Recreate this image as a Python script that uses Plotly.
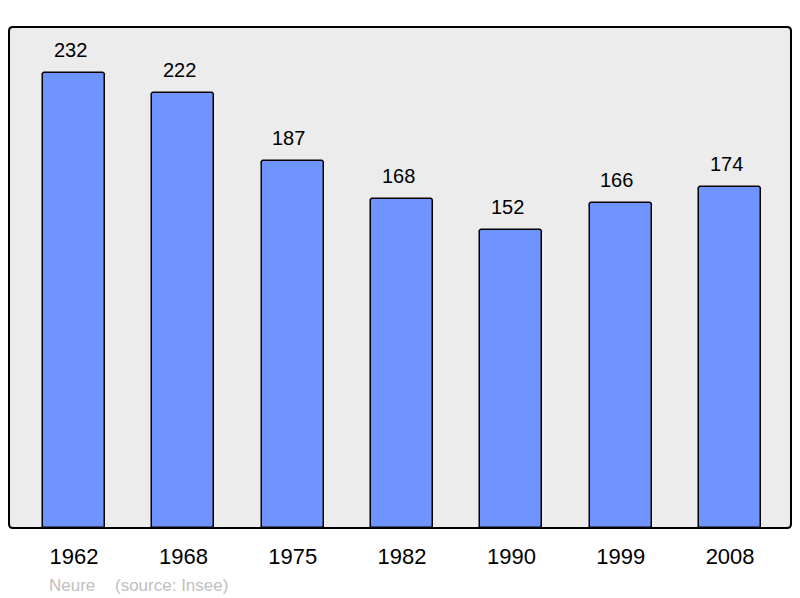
import plotly.graph_objects as go

years = ["1962", "1968", "1975", "1982", "1990", "1999", "2008"]
population = [232, 222, 187, 168, 152, 166, 174]
source_name = "Neure"
source_text = "(source: Insee)"

W, H = 800, 598
ml, mr, mt, mb = 9, 9, 27, 70
pw, ph = W - ml - mr, H - mt - mb

fig = go.Figure()
fig.add_trace(go.Bar(
    x=list(range(len(years))), y=population,
    width=0.567,
    marker=dict(color="#7094ff", line=dict(color="#000000", width=1.5), cornerradius=3),
    hoverinfo="skip",
))

for i, v in enumerate(population):
    fig.add_annotation(x=i, y=v, text=str(v), showarrow=False,
                       yanchor="bottom", yshift=10, xshift=-4,
                       font=dict(family="Liberation Sans, Arial", size=20, color="#000000"))

# rounded border of plot area
r = 4
rx, ry = r / pw, r / ph
path = (f"M {rx},0 L {1-rx},0 Q 1,0 1,{ry} L 1,{1-ry} Q 1,1 {1-rx},1 "
        f"L {rx},1 Q 0,1 0,{1-ry} L 0,{ry} Q 0,0 {rx},0 Z")
fig.add_shape(type="path", path=path, xref="paper", yref="paper",
              line=dict(color="#000000", width=2), layer="above")

src_font = dict(family="Liberation Sans, Arial", size=17, color="#c0c0c0")
fig.add_annotation(text=source_name, xref="paper", yref="paper",
                   x=(47 - ml) / pw, y=-(585 - 528) / ph, xanchor="left", yanchor="middle",
                   showarrow=False, font=src_font)
fig.add_annotation(text=source_text, xref="paper", yref="paper",
                   x=(113 - ml) / pw, y=-(585 - 528) / ph, xanchor="left", yanchor="middle",
                   showarrow=False, font=src_font)

fig.update_layout(
    width=W, height=H,
    margin=dict(l=ml, r=mr, t=mt, b=mb),
    paper_bgcolor="#ffffff", plot_bgcolor="#ececec",
    showlegend=False,
    bargap=0,
    xaxis=dict(range=[-0.595, 6.557], tickmode="array",
               tickvals=list(range(len(years))), ticktext=years,
               showgrid=False, zeroline=False, showline=False,
               ticks="outside", ticklen=9, tickcolor="rgba(0,0,0,0)",
               tickfont=dict(family="Liberation Sans, Arial", size=22, color="#000000")),
    yaxis=dict(range=[0, 255.5], visible=False, showgrid=False, zeroline=False),
)

fig.write_html("out.html", config={"displayModeBar": False},
               post_script="document.body.style.margin='0';document.body.style.overflow='hidden';")
